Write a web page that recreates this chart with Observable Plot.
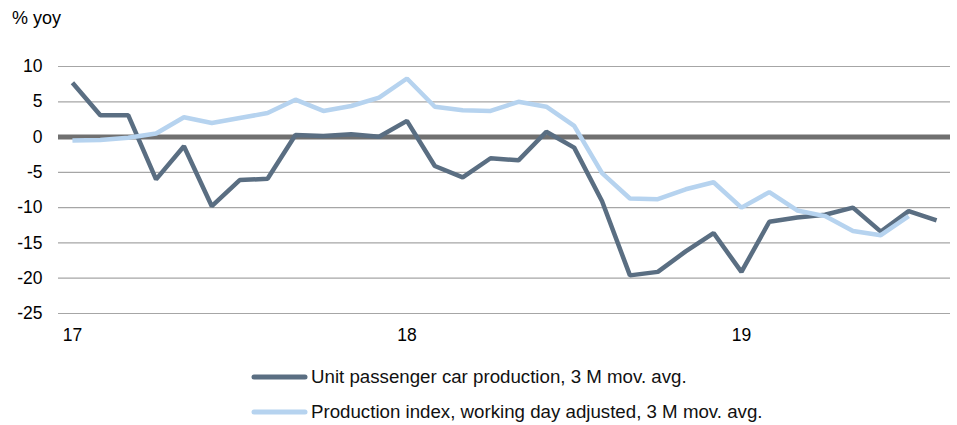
<!DOCTYPE html>
<html>
<head>
<meta charset="utf-8">
<script src="https://cdn.jsdelivr.net/npm/d3@7"></script>
<script src="https://cdn.jsdelivr.net/npm/@observablehq/plot@0.6"></script>
<style>
  html, body { margin: 0; padding: 0; background: #fff; }
  body { width: 957px; height: 425px; position: relative; font-family: "Liberation Sans", Arial, sans-serif; overflow: hidden; }
  #unit { position: absolute; left: 12px; top: 8px; font-size: 18px; color: #000; }
  #legend { position: absolute; left: 251px; top: 365px; font-size: 18.7px; color: #111; }
  .row { display: flex; align-items: center; height: 24px; margin-bottom: 11px; }
  .row svg { margin-right: 3px; }
</style>
</head>
<body>
<div id="unit">% yoy</div>
<div id="chart"></div>
<div id="legend"></div>
<script>
// Months Jan 2017 .. Aug 2019 (index 0..31)
const months = d3.range(32);
const xTickIndex = [0, 12, 24];
const xTickLabels = ["17", "18", "19"];
const yTicks = [10, 5, 0, -5, -10, -15, -20, -25];

const seriesNames = [
  "Unit passenger car production, 3 M mov. avg.",
  "Production index, working day adjusted, 3 M mov. avg."
];
const seriesColors = ["#5a6e82", "#b6d3ef"];

const unitProduction = [
  7.7, 3.1, 3.1, -6.0, -1.3, -9.8, -6.1, -5.9, 0.3, 0.15, 0.4, 0.05,
  2.3, -4.1, -5.7, -3.0, -3.3, 0.75, -1.5, -9.1, -19.6, -19.1, -16.2, -13.6,
  -19.1, -12.0, -11.4, -11.0, -10.0, -13.4, -10.5, -11.8
];
const productionIndex = [
  -0.5, -0.4, -0.1, 0.5, 2.8, 2.0, 2.7, 3.4, 5.3, 3.7, 4.4, 5.6,
  8.3, 4.3, 3.8, 3.7, 5.0, 4.3, 1.6, -5.1, -8.7, -8.8, -7.4, -6.4,
  -10.0, -7.8, -10.4, -11.2, -13.3, -13.9, -11.2
];

const data = [];
unitProduction.forEach((v, i) => data.push({x: months[i], y: v, s: seriesNames[0]}));
productionIndex.forEach((v, i) => data.push({x: months[i], y: v, s: seriesNames[1]}));

const chart = Plot.plot({
  width: 957,
  height: 355,
  marginLeft: 58,
  marginRight: 7,
  marginTop: 66,
  marginBottom: 42,
  style: {fontFamily: "Liberation Sans, Arial, sans-serif", fontSize: "17.5px", color: "#000", background: "#fff"},
  x: {type: "linear", domain: [-0.5, 31.5]},
  y: {domain: [-25, 10]},
  color: {domain: seriesNames, range: seriesColors},
  marks: [
    Plot.ruleY(yTicks.filter(d => d !== 0), {stroke: "#a6a6a6", strokeWidth: 1.2}),
    Plot.ruleY([0], {stroke: "#707070", strokeWidth: 5}),
    Plot.axisY(yTicks, {tickSize: 0, tickPadding: 16, label: null, tickFormat: d => String(d), fontSize: 17.5}),
    Plot.axisX(xTickIndex, {tickSize: 0, tickPadding: 15, label: null, tickFormat: (d, i) => xTickLabels[i], fontSize: 17.5}),
    Plot.line(data, {x: "x", y: "y", z: "s", stroke: "s", strokeWidth: 4.5, strokeLinejoin: "miter", strokeLinecap: "butt"})
  ]
});
document.getElementById("chart").appendChild(chart);

const legend = document.getElementById("legend");
seriesNames.forEach((name, i) => {
  const row = document.createElement("div");
  row.className = "row";
  row.innerHTML = `<svg width="57" height="8"><line x1="3" y1="4" x2="54" y2="4" stroke="${seriesColors[i]}" stroke-width="5" stroke-linecap="round"/></svg><span>${name}</span>`;
  legend.appendChild(row);
});
</script>
</body>
</html>
